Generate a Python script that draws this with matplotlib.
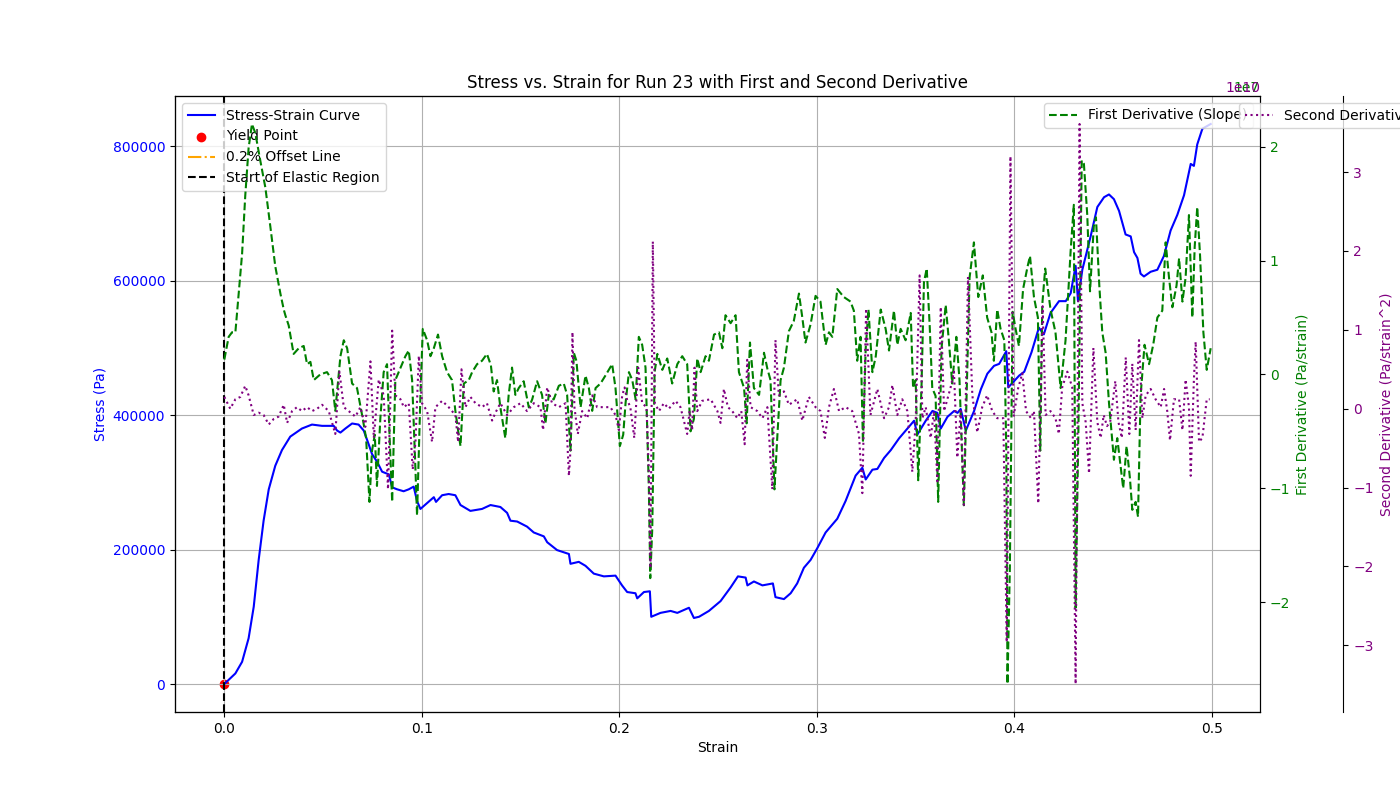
import numpy as np
import matplotlib
matplotlib.use("Agg")
import matplotlib.pyplot as plt

# ---------------- data ----------------
stress_strain = [0.0, 0.0056, 0.009, 0.0123, 0.0149, 0.0174, 0.0199, 0.0225, 0.0258, 0.0292,
    0.0334, 0.0393, 0.0444, 0.0495, 0.0554, 0.0571, 0.0588, 0.0613, 0.0647, 0.0680,
    0.0706, 0.0731, 0.0748, 0.0774, 0.0799, 0.0833, 0.0850, 0.0875, 0.0908, 0.0934,
    0.0959, 0.0976, 0.0993, 0.1027, 0.1061, 0.1072, 0.1103, 0.1136, 0.1170, 0.1196,
    0.1246, 0.1305, 0.1348, 0.1398, 0.1432, 0.1449, 0.1483, 0.1533, 0.1567, 0.1618,
    0.1635, 0.1685, 0.1745, 0.1753, 0.1795, 0.1829, 0.1871, 0.1922, 0.1981, 0.2014,
    0.2040, 0.2082, 0.2091, 0.2125, 0.2155, 0.2162, 0.2209, 0.2260, 0.2294, 0.2353,
    0.2378, 0.2404, 0.2454, 0.2513, 0.2564, 0.2601, 0.2640, 0.2649, 0.2682, 0.2725,
    0.2778, 0.2791, 0.2834, 0.2868, 0.2901, 0.2935, 0.2969, 0.3003, 0.3045, 0.3070,
    0.3104, 0.3146, 0.3197, 0.3231, 0.3248, 0.3282, 0.3307, 0.3341, 0.3375, 0.3417,
    0.3468, 0.3493, 0.3510, 0.3552, 0.3586, 0.3611, 0.3628, 0.3662, 0.3696, 0.3713,
    0.3729, 0.3755, 0.3797, 0.3831, 0.3864, 0.3898, 0.3924, 0.3960, 0.3970, 0.4025,
    0.4051, 0.4088, 0.4125, 0.4150, 0.4184, 0.4227, 0.4261, 0.4286, 0.4311, 0.4323,
    0.4345, 0.4387, 0.4421, 0.4455, 0.4480, 0.4505, 0.4531, 0.4564, 0.4590, 0.4607,
    0.4624, 0.4640, 0.4657, 0.4691, 0.4725, 0.4758, 0.4792, 0.4826, 0.4860, 0.4894,
    0.4910, 0.4927, 0.4953, 0.4995]
stress_values = [0, 15700, 33000, 68000, 115000, 184600, 243000, 289600, 324600, 348000,
    368000, 380000, 385900, 384000, 384000, 377000, 374000, 380000, 387500, 385900,
    377000, 356600, 342000, 330400, 315800, 311800, 292500, 289600, 286700, 289600,
    293600, 272100, 260400, 269100, 277900, 270900, 280800, 282600, 280800, 266200,
    257500, 260400, 266200, 263300, 254600, 242900, 241700, 234100, 225400, 219600,
    210900, 199200, 193400, 178800, 181700, 175800, 164200, 160100, 161200, 146700,
    136800, 135000, 127400, 136800, 137900, 100000, 105800, 108700, 105800, 113400,
    98200, 100000, 108700, 123300, 143700, 160100, 158300, 146700, 152500, 146700,
    149600, 129200, 126300, 135000, 149600, 172900, 184600, 202100, 225400, 234100,
    245800, 272100, 310000, 321700, 304200, 318800, 319900, 336200, 347900, 365400,
    382900, 391600, 371200, 391600, 406200, 403300, 379900, 397400, 406200, 403300,
    409100, 377000, 406200, 438300, 461600, 473300, 476200, 495000, 441200, 458700,
    464500, 493700, 530000, 520000, 552000, 569500, 569500, 581200, 622000, 569500,
    616200, 665800, 709500, 724100, 728200, 721200, 703700, 668700, 665800, 642400,
    633700, 610300, 606200, 613200, 616200, 636600, 674500, 697800, 727000, 773600,
    770700, 802700, 826000, 833000]

d1_strain = [0.0, 0.0022, 0.0039, 0.0056, 0.0073, 0.0090, 0.0106, 0.0123, 0.0140, 0.0157,
    0.0182, 0.0208, 0.0233, 0.0258, 0.0284, 0.0301, 0.0309, 0.0326, 0.0351, 0.0377,
    0.0402, 0.0419, 0.0436, 0.0453, 0.0486, 0.0520, 0.0545, 0.0562, 0.0588, 0.0605,
    0.0622, 0.0647, 0.0672, 0.0698, 0.0718, 0.0735, 0.0748, 0.0762, 0.0773, 0.0790,
    0.0807, 0.0824, 0.0836, 0.0850, 0.0866, 0.0883, 0.0900, 0.0917, 0.0934, 0.0951,
    0.0968, 0.0976, 0.0993, 0.1005, 0.1027, 0.1044, 0.1061, 0.1082, 0.1103, 0.1128,
    0.1153, 0.1170, 0.1187, 0.1196, 0.1213, 0.1238, 0.1255, 0.1280, 0.1305, 0.1330,
    0.1350, 0.1364, 0.1381, 0.1398, 0.1423, 0.1440, 0.1457, 0.1474, 0.1491, 0.1516,
    0.1542, 0.1559, 0.1584, 0.1609, 0.1626, 0.1643, 0.1668, 0.1694, 0.1719, 0.1736,
    0.1753, 0.1770, 0.1783, 0.1804, 0.1829, 0.1846, 0.1863, 0.1880, 0.1905, 0.1930,
    0.1964, 0.1981, 0.2003, 0.2020, 0.2032, 0.2049, 0.2066, 0.2083, 0.2099, 0.2116,
    0.2133, 0.2150, 0.2157, 0.2167, 0.2179, 0.2193, 0.2218, 0.2243, 0.2268, 0.2294,
    0.2319, 0.2344, 0.2361, 0.2378, 0.2395, 0.2412, 0.2437, 0.2454, 0.2480, 0.2505,
    0.2522, 0.2538, 0.2564, 0.2589, 0.2606, 0.2632, 0.2645, 0.2662, 0.2682, 0.2708,
    0.2733, 0.2750, 0.2766, 0.2786, 0.2800, 0.2817, 0.2834, 0.2859, 0.2884, 0.2910,
    0.2927, 0.2943, 0.2969, 0.2994, 0.3019, 0.3045, 0.3062, 0.3079, 0.3104, 0.3137,
    0.3171, 0.3188, 0.3205, 0.3222, 0.3234, 0.3248, 0.3262, 0.3282, 0.3299, 0.3324,
    0.3349, 0.3366, 0.3391, 0.3408, 0.3425, 0.3450, 0.3476, 0.3488, 0.3501, 0.3514,
    0.3531, 0.3543, 0.3557, 0.3572, 0.3585, 0.3602, 0.3615, 0.3632, 0.3653, 0.3669,
    0.3686, 0.3707, 0.3723, 0.3745, 0.3762, 0.3774, 0.3796, 0.3818, 0.3841, 0.3863,
    0.3885, 0.3897, 0.3914, 0.3931, 0.3950, 0.3960, 0.3966, 0.3978, 0.3992, 0.4007,
    0.4024, 0.4045, 0.4068, 0.4080, 0.4100, 0.4120, 0.4132, 0.4142, 0.4157, 0.4184,
    0.4209, 0.4235, 0.4260, 0.4286, 0.4302, 0.4311, 0.4325, 0.4342, 0.4353, 0.4370,
    0.4384, 0.4403, 0.4414, 0.4431, 0.4446, 0.4463, 0.4480, 0.4505, 0.4522, 0.4539,
    0.4552, 0.4569, 0.4586, 0.4598, 0.4615, 0.4627, 0.4640, 0.4660, 0.4683, 0.4704,
    0.4725, 0.4750, 0.4767, 0.4784, 0.4801, 0.4822, 0.4835, 0.4852, 0.4868, 0.4885,
    0.4902, 0.4914, 0.4927, 0.4941, 0.4958, 0.4975, 0.4995]
d1_values = [0.13, 0.33, 0.37, 0.37, 0.71, 1.06, 1.57, 1.99, 2.20, 2.12,
    1.88, 1.64, 1.30, 0.95, 0.71, 0.57, 0.52, 0.43, 0.18, 0.23,
    0.25, 0.09, 0.11, -0.05, 0.00, 0.02, -0.05, -0.32, 0.16, 0.30,
    0.23, -0.08, -0.12, -0.36, -0.56, -1.12, -0.67, -0.53, -0.98, -0.39,
    0.02, 0.09, -0.50, -1.12, -0.05, 0.02, 0.09, 0.16, 0.21, -0.05,
    -0.84, -1.24, -0.19, 0.40, 0.30, 0.16, 0.23, 0.35, 0.16, 0.02,
    -0.05, -0.32, -0.53, -0.63, -0.08, -0.05, 0.02, 0.09, 0.12, 0.18,
    0.08, -0.15, -0.05, -0.29, -0.56, -0.18, 0.06, -0.18, -0.12, -0.06,
    -0.29, -0.22, -0.06, -0.18, -0.43, -0.18, -0.22, -0.10, -0.08, -0.18,
    -0.67, 0.19, 0.12, -0.29, -0.01, -0.12, -0.32, -0.12, -0.08, -0.01,
    0.09, -0.12, -0.63, -0.53, -0.25, 0.02, -0.05, -0.22, 0.33, 0.26,
    0.06, -1.01, -1.79, -1.36, 0.02, 0.18, 0.04, 0.14, -0.08, 0.09,
    0.16, 0.09, -0.50, -0.39, 0.14, 0.02, 0.16, 0.12, 0.35, 0.37,
    0.23, 0.52, 0.45, 0.52, 0.02, -0.12, -0.43, 0.28, -0.12, -0.18,
    0.19, 0.05, -0.05, -1.01, -0.56, -0.05, 0.06, 0.38, 0.47, 0.71,
    0.50, 0.28, 0.44, 0.69, 0.64, 0.26, 0.37, 0.33, 0.75, 0.68,
    0.64, 0.56, 0.12, 0.33, -0.60, 0.23, 0.57, 0.02, 0.16, 0.57,
    0.40, 0.21, 0.56, 0.26, 0.40, 0.30, 0.54, -0.12, -0.05, -0.93,
    -0.08, 0.81, 0.93, 0.43, -0.12, -0.19, -1.12, 0.23, 0.61, 0.30,
    -0.08, 0.33, -0.05, -1.15, 0.02, 0.85, 1.16, 0.68, 0.87, 0.50,
    0.37, 0.12, 0.57, 0.40, 0.30, -0.67, -2.72, -1.70, 0.55, 0.40,
    0.25, 0.75, 0.95, 1.04, 0.68, 0.50, -0.67, 0.61, 0.93, 0.57,
    0.37, -0.12, 0.30, 1.09, 1.49, -2.05, -0.50, 1.88, 1.85, 1.40,
    0.73, 1.30, 1.38, 0.78, 0.37, 0.19, -0.25, -0.75, -0.56, -0.81,
    -1.00, -0.63, -0.91, -1.19, -1.12, -1.25, -0.19, 0.26, 0.09, 0.26,
    0.50, 0.56, 1.16, 0.85, 0.59, 0.78, 1.02, 0.64, 0.85, 1.40,
    0.50, 1.12, 1.47, 1.05, 0.37, 0.04, 0.23]

d2_strain = [0.0000, 0.0030, 0.0056, 0.0081, 0.0106, 0.0123, 0.0149, 0.0174, 0.0199, 0.0225,
    0.0250, 0.0275, 0.0301, 0.0318, 0.0343, 0.0368, 0.0393, 0.0419, 0.0444, 0.0470,
    0.0495, 0.0529, 0.0562, 0.0583, 0.0605, 0.0630, 0.0664, 0.0689, 0.0714, 0.0740,
    0.0757, 0.0782, 0.0807, 0.0829, 0.0850, 0.0866, 0.0892, 0.0909, 0.0934, 0.0954,
    0.0968, 0.0985, 0.1001, 0.1027, 0.1052, 0.1069, 0.1103, 0.1136, 0.1170, 0.1184,
    0.1201, 0.1221, 0.1246, 0.1272, 0.1305, 0.1330, 0.1356, 0.1373, 0.1398, 0.1432,
    0.1466, 0.1500, 0.1533, 0.1567, 0.1601, 0.1614, 0.1635, 0.1660, 0.1694, 0.1728,
    0.1745, 0.1753, 0.1763, 0.1773, 0.1790, 0.1812, 0.1838, 0.1863, 0.1888, 0.1922,
    0.1955, 0.1981, 0.1998, 0.2015, 0.2027, 0.2039, 0.2056, 0.2076, 0.2096, 0.2116,
    0.2138, 0.2150, 0.2158, 0.2170, 0.2180, 0.2201, 0.2226, 0.2251, 0.2285, 0.2310,
    0.2344, 0.2356, 0.2369, 0.2381, 0.2395, 0.2420, 0.2463, 0.2497, 0.2513, 0.2530,
    0.2550, 0.2572, 0.2598, 0.2618, 0.2635, 0.2648, 0.2665, 0.2699, 0.2725, 0.2750,
    0.2775, 0.2791, 0.2808, 0.2834, 0.2859, 0.2901, 0.2927, 0.2960, 0.2994, 0.3019,
    0.3041, 0.3062, 0.3087, 0.3113, 0.3146, 0.3180, 0.3214, 0.3231, 0.3250, 0.3272,
    0.3307, 0.3341, 0.3366, 0.3383, 0.3408, 0.3433, 0.3459, 0.3484, 0.3501, 0.3521,
    0.3535, 0.3552, 0.3577, 0.3594, 0.3611, 0.3628, 0.3645, 0.3678, 0.3695, 0.3712,
    0.3729, 0.3745, 0.3766, 0.3788, 0.3813, 0.3838, 0.3863, 0.3889, 0.3914, 0.3945,
    0.3962, 0.3981, 0.3997, 0.4020, 0.4041, 0.4060, 0.4085, 0.4100, 0.4122, 0.4144,
    0.4159, 0.4184, 0.4209, 0.4226, 0.4243, 0.4269, 0.4294, 0.4311, 0.4331, 0.4345,
    0.4362, 0.4379, 0.4401, 0.4421, 0.4438, 0.4453, 0.4470, 0.4486, 0.4512, 0.4528,
    0.4545, 0.4565, 0.4583, 0.4598, 0.4615, 0.4632, 0.4649, 0.4666, 0.4691, 0.4716,
    0.4742, 0.4759, 0.4775, 0.4789, 0.4809, 0.4835, 0.4852, 0.4868, 0.4885, 0.4894,
    0.4910, 0.4919, 0.4936, 0.4953, 0.4975, 0.4990]
d2_values = [0.15, 0.00, 0.12, 0.15, 0.29, 0.17, -0.08, -0.05, -0.08, -0.20,
    -0.13, -0.10, 0.05, -0.18, -0.03, 0.02, -0.03, 0.02, -0.03, 0.00,
    0.05, -0.03, -0.32, 0.47, 0.02, -0.03, -0.10, 0.02, -0.23, 0.60,
    -0.37, 0.37, 0.17, -1.02, 0.99, 0.17, 0.12, 0.02, 0.07, -0.77,
    -0.42, 0.67, 0.07, -0.03, -0.42, 0.02, 0.10, 0.02, -0.08, -0.42,
    0.50, 0.02, 0.15, 0.07, 0.02, 0.07, -0.15, -0.05, 0.07, -0.08,
    0.02, 0.07, -0.03, 0.07, 0.02, -0.27, 0.27, 0.07, 0.02, 0.07,
    -0.85, -0.52, 0.97, 0.02, -0.32, -0.03, -0.12, 0.17, 0.02, 0.02,
    0.02, -0.08, -0.27, 0.17, 0.27, 0.12, 0.02, -0.37, 0.52, 0.07,
    0.02, -0.82, -2.02, 2.12, 0.07, -0.03, 0.07, 0.00, 0.10, 0.02,
    -0.32, -0.03, -0.27, 0.52, -0.03, 0.10, 0.12, -0.03, -0.18, 0.25,
    0.02, -0.03, -0.12, -0.03, -0.45, 0.62, 0.02, -0.03, -0.12, 0.02,
    -1.02, 0.87, 0.17, 0.22, 0.05, 0.12, -0.15, 0.15, 0.02, -0.03,
    -0.37, 0.02, 0.25, -0.03, 0.02, -0.03, -0.32, -1.07, 1.27, -0.08,
    0.25, -0.12, 0.02, 0.30, -0.08, 0.12, -0.03, -0.80, -0.18, 1.69,
    -0.12, 0.02, -0.37, -0.03, -0.92, 1.29, -0.03, 0.27, 0.47, -0.62,
    -0.03, -1.22, 1.67, 0.17, -0.30, 0.02, 0.17, -0.03, -0.12, -0.12,
    -2.96, 3.20, -0.10, 0.26, 0.45, -0.03, -0.12, -0.03, -1.20, 1.30,
    -0.08, -0.03, -0.12, -0.32, 0.27, 0.47, 0.27, -3.49, 3.61, 0.07,
    -0.17, -0.82, 0.77, -0.17, -0.37, -0.08, -0.22, -0.17, 0.35, -0.17,
    -0.37, 0.65, -0.32, 0.57, -0.27, 0.87, -0.12, 0.17, 0.25, 0.12,
    0.02, 0.25, -0.03, -0.40, 0.12, 0.12, -0.27, 0.37, 0.02, -0.85,
    0.37, 0.85, -0.42, -0.37, 0.12, 0.12]

yield_strain = [0.0]
yield_stress = [0.0]
elastic_start = 0.0
d1_scale = 1e7
d2_scale = 1e10

# ---------------- plot ----------------
fig, ax1 = plt.subplots(figsize=(14, 8), dpi=100)

ax1.plot(stress_strain, stress_values, color='blue', linewidth=1.5, label='Stress-Strain Curve')
ax1.scatter(yield_strain, yield_stress, color='red', label='Yield Point')
ax1.plot([], [], color='orange', linestyle='-.', label='0.2% Offset Line')
ax1.axvline(elastic_start, color='black', linestyle='--', label='Start of Elastic Region')
ax1.set_xlabel('Strain')
ax1.set_ylabel('Stress (Pa)', color='blue')
ax1.tick_params(axis='y', labelcolor='blue')
ax1.grid(True)
ax1.legend(loc='upper left')

ax2 = ax1.twinx()
ax2.plot(d1_strain, np.array(d1_values) * d1_scale, color='green', linestyle='--',
         linewidth=1.5, label='First Derivative (Slope)')
ax2.set_ylabel('First Derivative (Pa/strain)', color='green')
ax2.tick_params(axis='y', labelcolor='green')
ax2.yaxis.get_offset_text().set_color('green')
ax2.legend(loc='upper right')

ax3 = ax1.twinx()
ax3.spines['right'].set_position(('outward', 60))
ax3.plot(d2_strain, np.array(d2_values) * d2_scale, color='purple', linestyle=':',
         linewidth=1.5, label='Second Derivative (Curvature)')
ax3.set_ylabel('Second Derivative (Pa/strain^2)', color='purple')
ax3.tick_params(axis='y', labelcolor='purple')
ax3.yaxis.get_offset_text().set_color('purple')
ax3.legend(loc='upper left', bbox_to_anchor=(0.9746, 1.0))

ax1.set_title('Stress vs. Strain for Run 23 with First and Second Derivative')

fig.savefig('out.png', dpi=100)
